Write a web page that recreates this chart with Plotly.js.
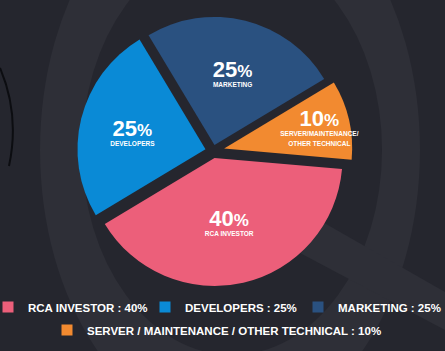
<!DOCTYPE html>
<html>
<head>
<meta charset="utf-8">
<script src="https://cdn.plot.ly/plotly-3.0.1.min.js"></script>
<style>
html,body{margin:0;padding:0;background:#25262e;}
#chart{width:445px;height:351px;}
</style>
</head>
<body>
<div id="chart"></div>
<script>
// ---- data ----
const categories = ["RCA INVESTOR", "DEVELOPERS", "MARKETING", "SERVER / MAINTENANCE / OTHER TECHNICAL"];
const sliceLabels = ["RCA INVESTOR", "DEVELOPERS", "MARKETING", "SERVER/MAINTENANCE/<br>OTHER TECHNICAL"];
const shares = [40, 25, 25, 10];
const colors = ["#ec5f7a", "#0a8ad6", "#2a5180", "#f28a30"];
const legendIds = ["legend", "legend2", "legend3", "legend4"];

const FONT = "Liberation Sans, Arial, sans-serif";

const pie = {
  type: "pie",
  labels: categories,
  values: shares,
  customdata: sliceLabels,
  sort: false,
  direction: "clockwise",
  rotation: 95,
  pull: [0.055, 0.06, 0.05, 0.09],
  domain: {x: [0.165, 0.792], y: [0.172, 0.967]},
  marker: {colors: colors, line: {width: 0}},
  textposition: "inside",
  insidetextorientation: "horizontal",
  texttemplate: "<span style='font-size:22px'>%{value}</span><span style='font-size:17px'>%</span><br><span style='font-size:6.5px'>%{customdata}</span>",
  textfont: {family: FONT, size: 7.6, color: "#ffffff", weight: "bold"},
  hoverinfo: "skip",
  showlegend: false
};

const legendTraces = categories.map((c, i) => ({
  type: "scatter",
  mode: "markers",
  x: [null], y: [null],
  name: c + " : " + shares[i] + "%",
  marker: {symbol: "square", size: 11, color: colors[i]},
  legend: legendIds[i],
  showlegend: true,
  hoverinfo: "skip"
}));

const bg = "#25262e";
const ring = "#2e2f37";

function legendBox(xpx, ypx) {
  return {
    orientation: "h", x: xpx / 445, xanchor: "left", y: 1 - ypx / 351, yanchor: "middle",
    bgcolor: "rgba(0,0,0,0)", borderwidth: 0,
    font: {family: FONT, size: 11.5, color: "#ffffff", weight: "bold"},
    itemwidth: 30
  };
}

const layout = {
  width: 445, height: 351,
  margin: {l: 0, r: 0, t: 0, b: 0, autoexpand: false},
  paper_bgcolor: bg,
  plot_bgcolor: "rgba(0,0,0,0)",
  xaxis: {visible: false, range: [0, 445], fixedrange: true},
  yaxis: {visible: false, range: [351, 0], fixedrange: true},
  showlegend: true,
  uniformtext: {minsize: 7.6, mode: "show"},
  legend: legendBox(-12, 307),
  legend2: legendBox(145, 307),
  legend3: legendBox(298, 307),
  legend4: legendBox(47, 330),
  shapes: [
    {type: "circle", xref: "x", yref: "y", x0: 40, x1: 420, y0: -130, y1: 430, fillcolor: ring, line: {width: 0}, layer: "below"},
    {type: "circle", xref: "x", yref: "y", x0: 82, x1: 382, y0: -55, y1: 355, fillcolor: bg, line: {width: 0}, layer: "below"},
    {type: "path", xref: "x", yref: "y", path: "M 305 212 L 445 292 L 445 330 L 285 245 Z", fillcolor: ring, line: {width: 0}, layer: "below"},
    {type: "path", xref: "x", yref: "y", path: "M 0 68 Q 20 115 9 166", fillcolor: "rgba(0,0,0,0)", line: {width: 2, color: "#0c0d11"}, layer: "below"}
  ]
};

Plotly.newPlot("chart", [pie].concat(legendTraces), layout, {displayModeBar: false, staticPlot: true});
</script>
</body>
</html>
